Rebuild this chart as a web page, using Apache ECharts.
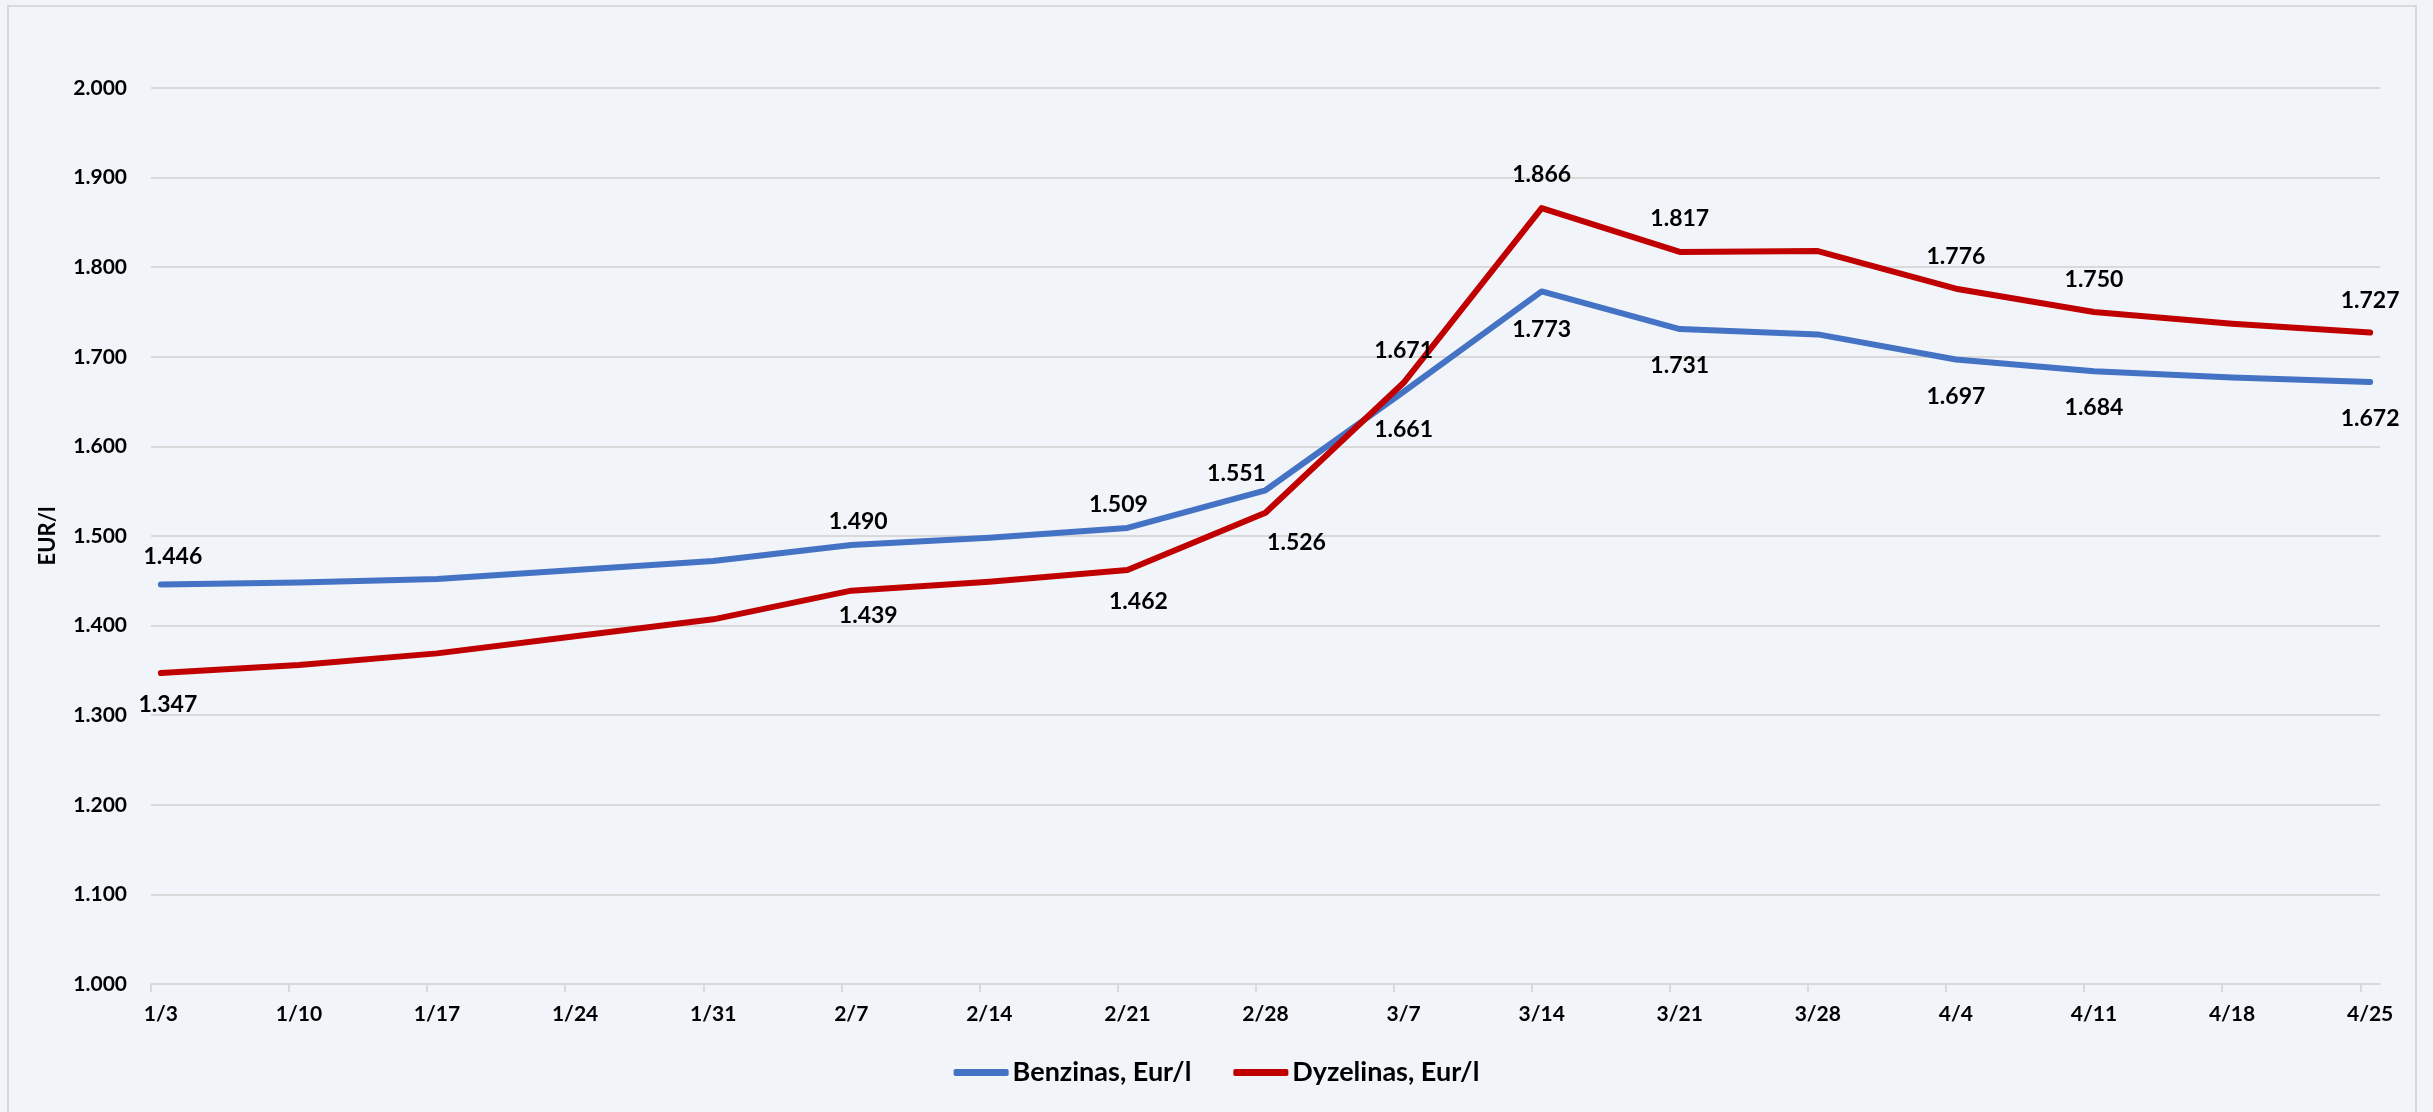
<!DOCTYPE html>
<html>
<head>
<meta charset="utf-8">
<script src="https://cdn.jsdelivr.net/npm/echarts@6/dist/echarts.min.js"></script>
<style>
  html, body { margin: 0; padding: 0; background: #F1F4F8; }
  #chart { width: 2433px; height: 1112px; }
</style>
</head>
<body>
<div id="chart"></div>
<script>
// ---- data ----
const weeks = ['1/3','1/10','1/17','1/24','1/31','2/7','2/14','2/21','2/28','3/7','3/14','3/21','3/28','4/4','4/11','4/18','4/25'];
const benzinas  = [1.446, 1.448, 1.452, 1.462, 1.472, 1.490, 1.498, 1.509, 1.551, 1.661, 1.773, 1.731, 1.725, 1.697, 1.684, 1.677, 1.672];
const dyzelinas = [1.347, 1.356, 1.369, 1.388, 1.407, 1.439, 1.449, 1.462, 1.526, 1.671, 1.866, 1.817, 1.818, 1.776, 1.750, 1.737, 1.727];
const seriesNames = ['Benzinas, Eur/l', 'Dyzelinas, Eur/l'];
const yAxisName = 'EUR/l';

// ---- label placement (which points carry a value label, and where) ----
const benzLabelOffsets = {0:[12,-28],5:[7,-23],7:[-9,-23],8:[-29,-17],9:[0,38],10:[0,38],11:[0,37],13:[0,37],14:[0,36],16:[0,37]};
const dyzLabelOffsets  = {0:[7,31],5:[17,25],7:[11,32],8:[31,30],9:[0,-32],10:[0,-33],11:[0,-33],13:[0,-32],14:[0,-32],16:[0,-32]};

const FONT = 'Lato, "Open Sans", sans-serif';
const DAYS_PER_WEEK = 7;
// each weekly point sits in the middle of its day on a date axis
const xOf = i => i * DAYS_PER_WEEK + 0.5;

function buildData(values, offsets) {
  return values.map((v, i) => {
    const item = { value: [xOf(i), v] };
    if (offsets[i]) {
      item.label = { show: true, position: 'inside', offset: offsets[i] };
    }
    return item;
  });
}

const labelStyle = {
  show: false,
  color: '#000',
  fontFamily: FONT,
  fontWeight: 'bold',
  fontSize: 23,
  formatter: p => p.value[1].toFixed(3)
};

const chart = echarts.init(document.getElementById('chart'));
chart.setOption({
  backgroundColor: '#F1F4F8',
  animation: false,
  graphic: [{
    type: 'rect',
    shape: { x: 8, y: 6, width: 2408, height: 1120 },
    style: { fill: 'none', stroke: '#D9D9D9', lineWidth: 2 },
    silent: true, z: -1
  }],
  grid: { left: 151, right: 53, top: 88, bottom: 128 },
  legend: {
    bottom: 20,
    left: 'center',
    top: 1054,
    itemWidth: 55,
    itemHeight: 7,
    itemGap: 42,
    icon: 'roundRect',
    textStyle: { color: '#000', fontFamily: FONT, fontWeight: 'bold', fontSize: 27, padding: [0, 0, 0, -1] },
    data: seriesNames
  },
  xAxis: {
    type: 'value',
    min: 0,
    max: (weeks.length - 1) * DAYS_PER_WEEK + 1,
    splitLine: { show: false },
    axisLine: { show: true, lineStyle: { color: '#D9D9D9', width: 2 } },
    axisTick: {
      show: true, length: 8,
      lineStyle: { color: '#D9D9D9', width: 2 },
      customValues: weeks.map((_, i) => i * DAYS_PER_WEEK)
    },
    axisLabel: {
      color: '#000', fontFamily: FONT, fontWeight: 'bold', fontSize: 21, margin: 20,
      customValues: weeks.map((_, i) => xOf(i)),
      formatter: v => weeks[Math.round((v - 0.5) / DAYS_PER_WEEK)] || ''
    }
  },
  yAxis: {
    type: 'value',
    min: 1.0,
    max: 2.0,
    interval: 0.1,
    name: yAxisName,
    nameLocation: 'middle',
    nameRotate: 90,
    nameGap: 92,
    nameTextStyle: { color: '#000', fontFamily: FONT, fontWeight: 'bold', fontSize: 22 },
    axisLine: { show: false },
    axisTick: { show: false },
    splitLine: { show: true, lineStyle: { color: '#D9D9D9', width: 2 } },
    axisLabel: {
      color: '#000', fontFamily: FONT, fontWeight: 'bold', fontSize: 21, margin: 24,
      formatter: v => v.toFixed(3)
    }
  },
  series: [
    {
      name: seriesNames[0],
      type: 'line',
      data: buildData(benzinas, benzLabelOffsets),
      symbol: 'circle', symbolSize: 1, showSymbol: true,
      itemStyle: { color: '#4472C4' },
      lineStyle: { color: '#4472C4', width: 6, cap: 'round', join: 'round' },
      label: labelStyle,
      z: 2
    },
    {
      name: seriesNames[1],
      type: 'line',
      data: buildData(dyzelinas, dyzLabelOffsets),
      symbol: 'circle', symbolSize: 1, showSymbol: true,
      itemStyle: { color: '#C00000' },
      lineStyle: { color: '#C00000', width: 6, cap: 'round', join: 'round' },
      label: labelStyle,
      z: 3
    }
  ]
});
</script>
</body>
</html>
